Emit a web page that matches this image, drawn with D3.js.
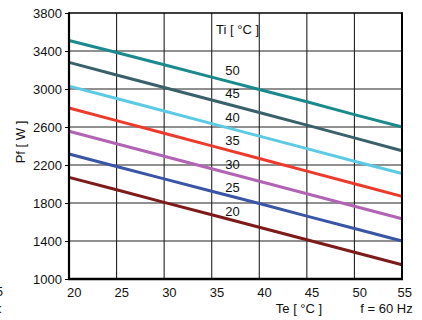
<!DOCTYPE html>
<html><head><meta charset="utf-8">
<script src="https://cdn.jsdelivr.net/npm/d3@7"></script>
<style>
html,body{margin:0;padding:0;background:#fff;}
text{font-family:"Liberation Sans",Arial,sans-serif;font-size:13px;fill:#111;}
</style></head>
<body><svg id="c" width="422" height="320"></svg>
<script>
const teValues = [20, 25, 30, 35, 40, 45, 50, 55];
const xTicks = [20, 25, 30, 35, 40, 45, 50, 55];
const yTicks = [1000, 1400, 1800, 2200, 2600, 3000, 3400, 3800];
const tiLabels = ["50", "45", "40", "35", "30", "25", "20"];
const pf50 = [3510, 3385, 3255, 3125, 2995, 2865, 2730, 2600];
const pf45 = [3280, 3148, 3016, 2884, 2752, 2620, 2485, 2350];
const pf40 = [3030, 2900, 2768, 2636, 2504, 2372, 2240, 2110];
const pf35 = [2800, 2667, 2534, 2401, 2269, 2136, 2003, 1870];
const pf30 = [2555, 2424, 2292, 2161, 2029, 1898, 1766, 1635];
const pf25 = [2315, 2184, 2054, 1923, 1794, 1662, 1531, 1400];
const pf20 = [2070, 1939, 1807, 1676, 1544, 1413, 1281, 1150];
const seriesList = [pf50, pf45, pf40, pf35, pf30, pf25, pf20];
const colors = ["#1b8a8c", "#3a6169", "#5ccae2", "#ee3a2c", "#b163b4", "#3b55a6", "#7d1b1b"];

const svg = d3.select("#c");
svg.append("rect").attr("width",422).attr("height",320).attr("fill","#fff");
const L=69, R=402, T=13, B=279;
const x = d3.scaleLinear().domain([20,55]).range([L,R]);
const y = d3.scaleLinear().domain([1000,3800]).range([B,T]);

// grid
const g = svg.append("g");
g.selectAll(".vg").data(xTicks.slice(1,-1)).enter().append("line")
 .attr("x1",d=>x(d)).attr("x2",d=>x(d)).attr("y1",T).attr("y2",B)
 .attr("stroke","#222").attr("stroke-width",1.1);
g.selectAll(".hg").data(yTicks.slice(1,-1)).enter().append("line")
 .attr("y1",d=>y(d)).attr("y2",d=>y(d)).attr("x1",L).attr("x2",R)
 .attr("stroke","#222").attr("stroke-width",1.1);

// lines
const line = d3.line().x((d,i)=>x(teValues[i])).y(d=>y(d));
seriesList.forEach((s,k)=>{
  svg.append("path").datum(s).attr("d",line).attr("fill","none")
    .attr("stroke",colors[k]).attr("stroke-width",3);
});

// frame
svg.append("line").attr("x1",L).attr("x2",R).attr("y1",T).attr("y2",T).attr("stroke","#000").attr("stroke-width",1.6);
svg.append("line").attr("x1",R).attr("x2",R).attr("y1",T-0.8).attr("y2",B).attr("stroke","#000").attr("stroke-width",2);
svg.append("line").attr("x1",L).attr("x2",L).attr("y1",T-0.8).attr("y2",B+1).attr("stroke","#000").attr("stroke-width",2.2);
svg.append("line").attr("x1",L-1).attr("x2",R+1).attr("y1",B).attr("y2",B).attr("stroke","#000").attr("stroke-width",2.6);

// y axis ticks
const yAxis = d3.axisLeft(y).tickValues(yTicks).tickFormat(d3.format("d")).tickSize(4).tickPadding(3);
const ya = svg.append("g").attr("transform",`translate(${L},0)`).call(yAxis);
ya.select(".domain").remove();
ya.selectAll("line").attr("stroke","#000").attr("stroke-width",1);
ya.selectAll("text").attr("font-size",13).attr("fill","#111").attr("font-family","Liberation Sans, Arial, sans-serif");

// x tick labels
const xa = svg.append("g");
xa.selectAll("text").data(xTicks).enter().append("text")
 .attr("x",(d,i)=> i===xTicks.length-1 ? x(d)+10 : x(d)-2)
 .attr("text-anchor",(d,i)=> i===xTicks.length-1 ? "end" : "start")
 .attr("y",297).text(d=>d);

// axis titles
svg.append("text").attr("transform","translate(25,142) rotate(-90)").attr("text-anchor","middle").text("Pf [ W ]");
svg.append("text").attr("x",299).attr("y",313).attr("text-anchor","middle").text("Te [ °C ]");
svg.append("text").attr("x",386.5).attr("y",313).attr("text-anchor","middle").text("f = 60 Hz");
svg.append("text").attr("x",237.5).attr("y",34).attr("text-anchor","middle").text("Ti [ °C ]");

// curve labels
svg.selectAll(".lab").data(tiLabels).enter().append("text")
 .attr("x",232.5).attr("y",(d,i)=>75+i*23.45).attr("text-anchor","middle").text(d=>d);

// cut-off stray text at left edge (as in the reference)
svg.append("text").attr("x",3).attr("y",296).attr("text-anchor","end").text("5");
svg.append("text").attr("x",2).attr("y",313).attr("text-anchor","end").text(":");
</script></body></html>
